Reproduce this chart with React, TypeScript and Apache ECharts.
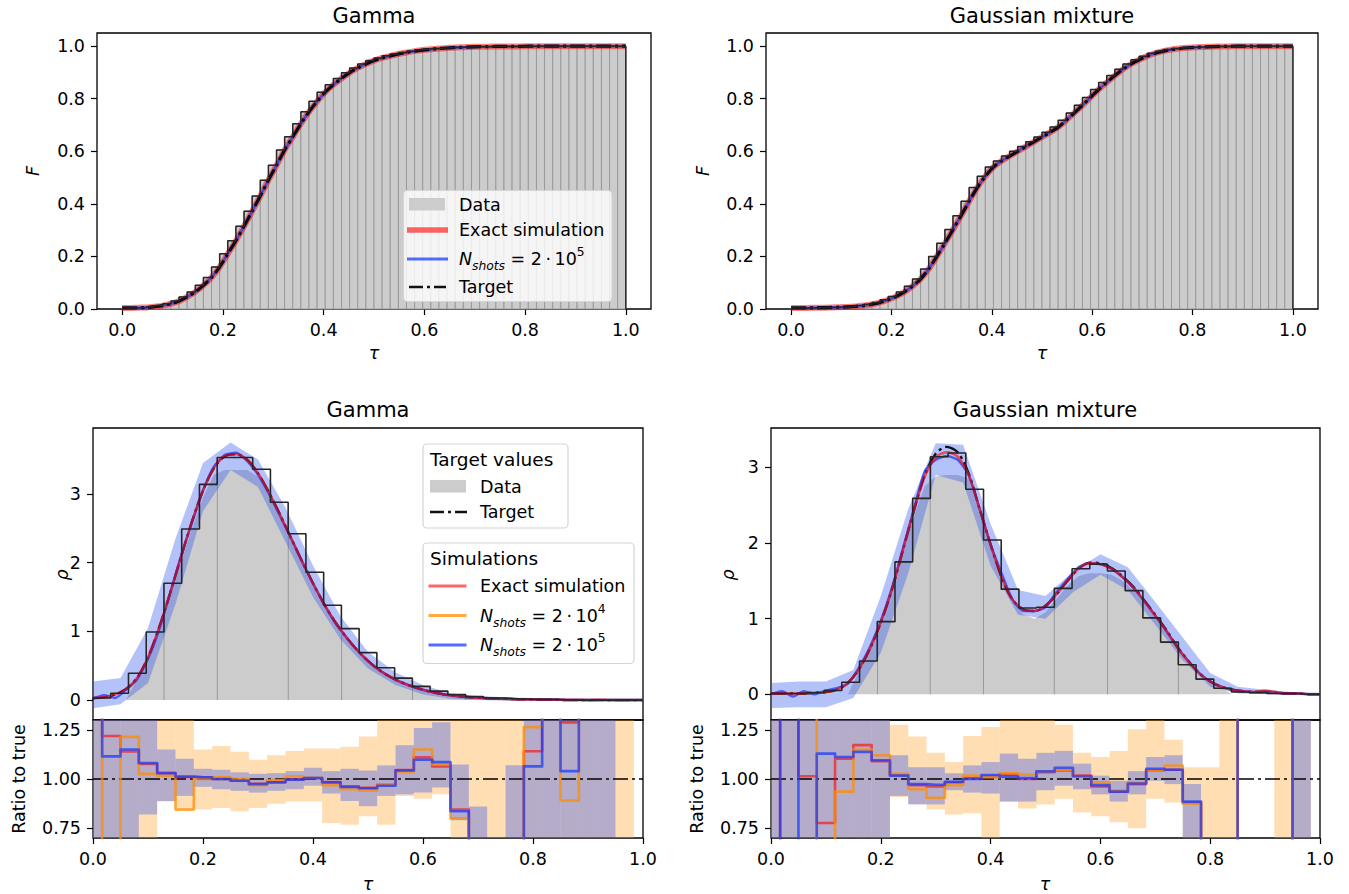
import React, { useEffect, useRef } from "react";
import * as echarts from "echarts";

const FONT = "DejaVu Sans";
const FS = 17.5;

// ---------------- tick values ----------------
const tauTicks = [0, 0.2, 0.4, 0.6, 0.8, 1.0];
const cdfYTicks = [0, 0.2, 0.4, 0.6, 0.8, 1.0];
const densityYTicks = [0, 1, 2, 3];
const ratioYTicks = [0.75, 1.0, 1.25];

// ---------------- CDF panels (63 edges, 62 bins) ----------------
const cdfBins = 62;
const gammaCdf = [
  0.004, 0.004, 0.005, 0.006, 0.009, 0.013, 0.02, 0.03, 0.046, 0.065,
  0.09, 0.12, 0.16, 0.21, 0.26, 0.315, 0.372, 0.43, 0.49, 0.547,
  0.605, 0.655, 0.705, 0.75, 0.79, 0.825, 0.853, 0.877, 0.899, 0.917,
  0.932, 0.945, 0.955, 0.963, 0.97, 0.976, 0.981, 0.985, 0.988, 0.991,
  0.993, 0.995, 0.996, 0.997, 0.998, 0.998, 0.999, 0.999, 0.999, 0.999,
  1, 1, 1, 1, 1, 1, 1, 1, 1, 1, 1, 1, 1,
];
const mixtureCdf = [
  0.004, 0.004, 0.004, 0.005, 0.005, 0.006, 0.007, 0.008, 0.01, 0.013,
  0.018, 0.025, 0.035, 0.048, 0.065, 0.087, 0.114, 0.152, 0.2, 0.25,
  0.302, 0.355, 0.41, 0.462, 0.505, 0.54, 0.563, 0.582, 0.6, 0.618,
  0.636, 0.654, 0.672, 0.692, 0.718, 0.746, 0.775, 0.805, 0.835, 0.862,
  0.888, 0.912, 0.932, 0.948, 0.962, 0.973, 0.981, 0.987, 0.991, 0.994,
  0.996, 0.997, 0.998, 0.999, 0.999, 1, 1, 1, 1, 1, 1, 1, 1,
];

// ---------------- density curves (tau = 0, 0.02, ..., 1) ----------------
const gammaTarget = [
  0.03, 0.04, 0.08, 0.16, 0.32, 0.62, 1.05, 1.55, 2.08, 2.6,
  3.05, 3.38, 3.55, 3.58, 3.5, 3.3, 3.02, 2.7, 2.36, 2.02,
  1.7, 1.4, 1.14, 0.92, 0.73, 0.57, 0.44, 0.34, 0.26, 0.2,
  0.15, 0.11, 0.08, 0.06, 0.045, 0.035, 0.025, 0.02, 0.015, 0.01,
  0.01, 0.005, 0.005, 0, 0, 0, 0, 0, 0, 0, 0,
];
const gammaExact = [
  0.03, 0.04, 0.08, 0.16, 0.32, 0.62, 1.05, 1.55, 2.08, 2.6,
  3.05, 3.38, 3.55, 3.58, 3.5, 3.3, 3.02, 2.7, 2.36, 2.02,
  1.7, 1.4, 1.14, 0.92, 0.73, 0.57, 0.44, 0.34, 0.26, 0.2,
  0.15, 0.11, 0.08, 0.06, 0.045, 0.035, 0.025, 0.02, 0.015, 0.01,
  0.01, 0.005, 0.005, 0.005, 0.005, 0, 0.005, 0, 0, 0, 0,
];
const gammaShots2e5 = [
  0.02, 0.07, 0.03, 0.15, 0.3, 0.6, 1.02, 1.55, 2.1, 2.58,
  3.05, 3.4, 3.57, 3.6, 3.48, 3.28, 3.0, 2.68, 2.36, 2.02,
  1.7, 1.4, 1.13, 0.92, 0.73, 0.57, 0.44, 0.34, 0.26, 0.2,
  0.15, 0.11, 0.08, 0.06, 0.045, 0.035, 0.025, 0.02, 0.015, 0.01,
  0.01, 0.005, 0.005, 0, 0, 0, 0, 0, 0, 0, 0,
];
const gammaData = [
  0, 0, 0, 0, 0.3, 0.6, 1.0, 1.5, 2.0, 2.5,
  2.95, 3.28, 3.35, 3.35, 3.35, 3.25, 2.98, 2.66, 2.33, 2.0,
  1.68, 1.38, 1.12, 0.9, 0.71, 0.56, 0.43, 0.33, 0.25, 0.19,
  0.14, 0.1, 0.07, 0.05, 0.04, 0.03, 0.02, 0, 0, 0,
  0, 0, 0, 0, 0, 0, 0, 0, 0, 0, 0,
];
const mixtureTarget = [
  0.01, 0.01, 0.01, 0.01, 0.02, 0.03, 0.06, 0.15, 0.33, 0.6,
  0.95, 1.38, 1.9, 2.42, 2.9, 3.18, 3.27, 3.2, 2.92, 2.45,
  1.98, 1.55, 1.25, 1.12, 1.1, 1.17, 1.32, 1.5, 1.66, 1.74,
  1.73, 1.67, 1.56, 1.42, 1.24, 1.05, 0.85, 0.63, 0.44, 0.28,
  0.17, 0.1, 0.06, 0.04, 0.03, 0.03, 0.02, 0.01, 0.01, 0, 0,
];
const mixtureExact = [
  0.01, 0.01, 0.01, 0.01, 0.02, 0.03, 0.06, 0.15, 0.33, 0.6,
  0.95, 1.38, 1.9, 2.42, 2.88, 3.13, 3.2, 3.14, 2.9, 2.45,
  1.98, 1.55, 1.25, 1.12, 1.1, 1.17, 1.32, 1.5, 1.66, 1.73,
  1.72, 1.66, 1.55, 1.41, 1.23, 1.04, 0.84, 0.62, 0.44, 0.28,
  0.17, 0.1, 0.06, 0.04, 0.03, 0.05, 0.03, 0.01, 0.01, 0, 0,
];
const mixtureShots2e5 = [
  0.0, 0.04, -0.03, 0.04, 0.0, 0.05, 0.08, 0.14, 0.35, 0.62,
  0.97, 1.4, 1.92, 2.44, 2.95, 3.1, 3.15, 3.1, 2.9, 2.45,
  1.98, 1.6, 1.25, 1.1, 1.1, 1.15, 1.35, 1.52, 1.68, 1.73,
  1.72, 1.66, 1.55, 1.41, 1.23, 1.04, 0.84, 0.62, 0.44, 0.28,
  0.17, 0.1, 0.06, 0.04, 0.03, 0.04, 0.02, 0.01, 0.01, 0, 0,
];
const mixtureData = [
  0, 0, 0, 0, 0, 0, 0, 0, 0.3, 0.58,
  0.92, 1.35, 1.85, 2.35, 2.75, 2.88, 2.9, 2.9, 2.85, 2.4,
  1.95, 1.52, 1.22, 1.05, 1.0, 1.08, 1.26, 1.43, 1.56, 1.6,
  1.6, 1.58, 1.5, 1.38, 1.2, 1.02, 0.82, 0.6, 0.42, 0.26,
  0.15, 0.08, 0, 0, 0, 0, 0, 0, 0, 0, 0,
];

// gray data-histogram edges visible inside the gray area
const gammaDataEdges = [0.129, 0.226, 0.355, 0.452, 0.581, 0.677];
const gammaDataEdgeTops = [1.45, 3.35, 2.38, 0.95, 0.2, 0.05];
const mixtureDataEdges = [0.194, 0.29, 0.387, 0.516, 0.613, 0.742];
const mixtureDataEdgeTops = [0.9, 2.88, 2.2, 1.25, 1.59, 0.62];

// target histograms (31 bins on [0, 1])
const histBins = 31;
const gammaHist = [
  0.03, 0.1, 0.39, 0.99, 1.7, 2.49, 3.14, 3.53, 3.53, 3.36,
  2.88, 2.42, 1.86, 1.38, 1.04, 0.69, 0.47, 0.32, 0.2, 0.13,
  0.08, 0.05, 0.03, 0.02, 0.01, 0.01, 0, 0, 0, 0, 0,
];
const mixtureHist = [
  0.01, 0.01, 0.02, 0.05, 0.16, 0.44, 0.96, 1.75, 2.59, 3.14,
  3.19, 2.71, 2.04, 1.39, 1.14, 1.15, 1.4, 1.66, 1.72, 1.63,
  1.37, 1.01, 0.69, 0.39, 0.2, 0.08, 0.03, 0.02, 0.01, 0.01, 0,
];

// uncertainty band of N_shots = 2e5 (tau = 0, 0.05, ..., 1)
const gammaBandLow = [-0.12, -0.06, 0.25, 1.4, 2.75, 3.35, 3.1, 2.3, 1.5, 0.88, 0.46, 0.22, 0.08, 0.02, 0.0, -0.01, -0.01, -0.01, -0.01, -0.01, -0.01];
const gammaBandHigh = [0.27, 0.32, 1.05, 2.35, 3.45, 3.75, 3.5, 2.8, 1.96, 1.22, 0.7, 0.4, 0.22, 0.1, 0.06, 0.04, 0.03, 0.03, 0.03, 0.03, 0.03];
const mixtureBandLow = [-0.18, -0.17, -0.17, -0.05, 0.55, 1.6, 2.9, 2.8, 1.7, 1.05, 1.0, 1.35, 1.58, 1.38, 0.92, 0.45, 0.1, 0.01, 0.0, -0.01, -0.01];
const mixtureBandHigh = [0.15, 0.17, 0.17, 0.32, 1.3, 2.45, 3.32, 3.3, 2.25, 1.38, 1.3, 1.62, 1.85, 1.68, 1.22, 0.75, 0.28, 0.1, 0.06, 0.03, 0.02];

// ratio to true (31 bins centred on k/30)
const gammaRatioExact = [1.5, 1.219, 1.14, 1.076, 1.03, 1.01, 1.009, 1.0, 0.993, 0.976, 0.985, 0.998, 1.005, 0.985, 0.962, 0.955, 0.97, 1.045, 1.11, 1.064, 0.845, 0.5, 0.5, 0.5, 1.141, 1.5, 1.288, 1.5, 1.5, 1.5, 1.5];
const gammaRatio2e4 = [1.5, 0.5, 1.214, 1.026, 1.017, 0.845, 1.0, 1.009, 1.0, 0.969, 0.995, 1.014, 1.005, 0.969, 0.948, 0.94, 0.971, 1.034, 1.15, 1.074, 0.8, 0.5, 0.5, 0.5, 1.264, 1.5, 0.891, 1.5, 1.5, 1.5, 1.5];
const gammaRatio2e5 = [1.5, 1.115, 1.15, 1.081, 1.03, 1.012, 1.009, 1.0, 0.991, 0.974, 0.983, 0.997, 1.005, 0.983, 0.96, 0.953, 0.966, 1.043, 1.098, 1.086, 0.836, 0.5, 0.5, 0.5, 1.064, 1.5, 1.04, 1.5, 1.5, 1.5, 1.5];
const gammaBand2e5Low = [0.6, 0.6, 0.6, 0.82, 0.888, 0.914, 0.96, 0.948, 0.94, 0.931, 0.94, 0.948, 0.966, 0.926, 0.888, 0.862, 0.914, 0.922, 0.931, 0.957, 0.79, 0.6, null, 0.6, 0.6, 0.6, 0.6, 0.6, 0.6, null, null];
const gammaBand2e5High = [1.4, 1.4, 1.4, 1.4, 1.15, 1.103, 1.052, 1.047, 1.034, 1.026, 1.03, 1.04, 1.057, 1.04, 1.052, 1.043, 1.069, 1.172, 1.259, 1.288, 1.074, 0.86, null, 1.07, 1.4, 1.4, 1.4, 1.4, 1.4, null, null];
const gammaBand2e4Low = [0.6, 0.6, 0.6, 0.6, 0.885, 0.836, 0.845, 0.853, 0.836, 0.853, 0.874, 0.885, 0.885, 0.776, 0.767, 0.81, 0.767, 0.914, 0.9, 0.922, 0.6, 0.6, 0.6, 0.6, 0.6, 0.6, 0.6, 0.6, 0.6, 0.6, null];
const gammaBand2e4High = [1.4, 1.4, 1.4, 1.4, 1.4, 1.4, 1.15, 1.168, 1.138, 1.098, 1.121, 1.143, 1.155, 1.155, 1.164, 1.216, 1.4, 1.4, 1.4, 1.4, 1.4, 1.4, 1.4, 1.4, 1.4, 1.4, 1.4, 1.4, 1.4, 1.4, null];

const mixtureRatioExact = [0.5, 1.5, 1.014, 0.776, 1.103, 1.172, 1.09, 1.02, 0.969, 0.962, 0.983, 1.005, 1.012, 1.022, 1.0, 1.034, 1.043, 1.017, 0.962, 0.936, 0.974, 1.043, 1.047, 0.88, 0.5, 0.5, 1.5, 1.5, 1.5, 0.5, 0.5];
const mixtureRatio2e4 = [1.5, 1.5, 1.5, 0.5, 0.936, 1.15, 1.121, 1.026, 0.948, 0.905, 0.969, 1.017, 1.009, 1.029, 1.022, 1.039, 1.046, 1.014, 0.983, 0.943, 0.983, 1.043, 1.069, 0.874, 0.5, 0.5, 1.5, 1.5, 1.5, 0.5, 0.5];
const mixtureRatio2e5 = [0.5, 1.5, 0.5, 1.129, 1.112, 1.138, 1.095, 1.017, 0.974, 0.971, 0.986, 1.0, 1.02, 1.012, 1.005, 1.039, 1.057, 1.014, 0.969, 0.936, 0.977, 1.052, 1.047, 0.885, 0.5, 0.5, 1.5, 1.5, 1.5, 0.5, 0.5];
const mixtureBand2e5Low = [0.6, 0.6, 0.6, 0.6, 0.6, 0.6, 0.6, 0.914, 0.871, 0.871, 0.943, 0.931, 0.926, 0.885, 0.885, 0.943, 0.966, 0.948, 0.922, 0.885, 0.922, 0.991, 0.974, 0.6, null, null, null, null, null, 0.6, null];
const mixtureBand2e5High = [1.4, 1.4, 1.4, 1.4, 1.4, 1.4, 1.4, 1.121, 1.06, 1.06, 1.029, 1.069, 1.086, 1.129, 1.103, 1.133, 1.143, 1.078, 1.017, 0.991, 1.04, 1.112, 1.121, 0.974, null, null, null, null, null, 1.4, null];
const mixtureBand2e4Low = [0.6, 0.6, 0.6, 0.6, 0.6, 0.6, 0.6, 0.909, 0.871, 0.845, 0.819, 0.826, 0.6, 0.885, 0.85, 0.87, 0.9, 0.83, 0.81, 0.78, 0.75, 0.9, 0.88, 0.6, 0.6, 0.6, null, null, 0.6, 0.6, null];
const mixtureBand2e4High = [1.4, 1.4, 1.4, 1.4, 1.4, 1.4, 1.4, 1.276, 1.216, 1.133, 1.086, 1.219, 1.264, 1.4, 1.4, 1.4, 1.276, 1.133, 1.112, 1.143, 1.253, 1.4, 1.2, 1.06, 1.06, 1.4, null, null, 1.4, 1.4, null];

// ---------------- styles ----------------
const RED = "rgba(255,0,0,0.6)";
const RED_WIDE = "rgba(255,0,0,0.5)";
const BLUE = "rgba(25,60,255,0.75)";
const ORANGE = "rgba(255,140,0,0.75)";
const BAND_BLUE = "rgba(40,80,240,0.35)";
const BAND_ORANGE = "rgba(255,160,40,0.35)";
const GRAY = "#cccccc";
const DASHDOT = [15, 4, 3, 4];

const densityX = gammaTarget.map((_, i) => +(i * 0.02).toFixed(2));
const bandX = gammaBandLow.map((_, i) => +(i * 0.05).toFixed(2));
const ratioCenters = gammaRatioExact.map((_, i) => i / 30);

function lineSeries(xi: number, xs: number[], ys: number[], color: string, width: number, opts: any = {}) {
  return {
    type: "line",
    xAxisIndex: xi,
    yAxisIndex: xi,
    data: xs.map((x, i) => [x, ys[i]]),
    symbol: "none",
    silent: true,
    clip: true,
    smooth: opts.smooth ?? false,
    step: opts.step ?? false,
    lineStyle: { color, width, type: opts.dash ?? "solid", cap: "butt", join: "round" },
    areaStyle: opts.area ? { color: opts.area, opacity: 1, origin: 0 } : undefined,
    z: 2,
  };
}

function cdfBarsSeries(xi: number, cdf: number[]) {
  const w = 1 / cdfBins;
  return {
    type: "custom",
    xAxisIndex: xi,
    yAxisIndex: xi,
    silent: true,
    data: cdf.slice(1).map((v, k) => [k / cdfBins, v]),
    renderItem: (params: any, api: any) => {
      const x0 = api.value(0);
      const h = api.value(1);
      const p0 = api.coord([x0, h]);
      const p1 = api.coord([x0 + w, 0]);
      return {
        type: "rect",
        shape: { x: p0[0], y: p0[1], width: p1[0] - p0[0], height: p1[1] - p0[1] },
        style: { fill: GRAY, stroke: "#9a9a9a", lineWidth: 1 },
      };
    },
  };
}

function cdfStepSeries(xi: number, cdf: number[]) {
  const pts = cdf.map((v, k) => [k / cdfBins, v]);
  pts.push([1, 0]);
  return {
    type: "line",
    xAxisIndex: xi,
    yAxisIndex: xi,
    data: pts,
    step: "start",
    symbol: "none",
    silent: true,
    lineStyle: { color: "#262626", width: 1.5 },
  };
}

function histStepSeries(xi: number, hist: number[]) {
  const pts: number[][] = [[0, 0]];
  hist.forEach((v, k) => pts.push([(k + 1) / histBins, v]));
  pts.push([1, 0]);
  return {
    type: "line",
    xAxisIndex: xi,
    yAxisIndex: xi,
    data: pts,
    step: "start",
    symbol: "none",
    silent: true,
    lineStyle: { color: "#262626", width: 1.6 },
  };
}

function bandPolygon(xi: number, xs: number[], lo: number[], hi: number[], color: string) {
  return {
    type: "custom",
    xAxisIndex: xi,
    yAxisIndex: xi,
    silent: true,
    data: [[0.5, 1]],
    renderItem: (params: any, api: any) => {
      const pts: number[][] = [];
      xs.forEach((x, i) => pts.push(api.coord([x, hi[i]])));
      for (let i = xs.length - 1; i >= 0; i--) pts.push(api.coord([xs[i], lo[i]]));
      return { type: "polygon", shape: { points: pts }, style: { fill: color } };
    },
  };
}

function edgeLines(xi: number, xs: number[], tops: number[]) {
  return {
    type: "custom",
    xAxisIndex: xi,
    yAxisIndex: xi,
    silent: true,
    data: xs.map((x, i) => [x, tops[i]]),
    renderItem: (params: any, api: any) => {
      const p0 = api.coord([api.value(0), 0]);
      const p1 = api.coord([api.value(0), api.value(1)]);
      return {
        type: "line",
        shape: { x1: p0[0], y1: p0[1], x2: p1[0], y2: p1[1] },
        style: { stroke: "#9a9a9a", lineWidth: 1 },
      };
    },
  };
}

function ratioBand(xi: number, lo: (number | null)[], hi: (number | null)[], color: string) {
  const w = 1 / 30;
  const data: number[][] = [];
  ratioCenters.forEach((c, i) => {
    if (lo[i] != null && hi[i] != null) data.push([c, lo[i] as number, hi[i] as number]);
  });
  return {
    type: "custom",
    xAxisIndex: xi,
    yAxisIndex: xi,
    silent: true,
    data,
    renderItem: (params: any, api: any) => {
      const c = api.value(0);
      const p0 = api.coord([c - w / 2, api.value(2)]);
      const p1 = api.coord([c + w / 2, api.value(1)]);
      const cs = params.coordSys;
      const shape = echarts.graphic.clipRectByRect(
        { x: p0[0], y: p0[1], width: p1[0] - p0[0], height: p1[1] - p0[1] },
        { x: cs.x, y: cs.y, width: cs.width, height: cs.height }
      );
      if (!shape) return null;
      return { type: "rect", shape, style: { fill: color } };
    },
  };
}

function ratioPanelSeries(xi: number, exact: number[], r2e4: number[], r2e5: number[],
  b4lo: any[], b4hi: any[], b5lo: any[], b5hi: any[]) {
  return [
    ratioBand(xi, b4lo, b4hi, BAND_ORANGE),
    ratioBand(xi, b5lo, b5hi, BAND_BLUE),
    lineSeries(xi, [0, 1], [1, 1], "#000", 1.5, { dash: DASHDOT }),
    lineSeries(xi, ratioCenters, exact, RED, 2.6, { step: "middle" }),
    lineSeries(xi, ratioCenters, r2e4, ORANGE, 2.6, { step: "middle" }),
    lineSeries(xi, ratioCenters, r2e5, BLUE, 2.6, { step: "middle" }),
  ];
}

const fmt1 = (v: number) => v.toFixed(1);
const fmt2 = (v: number) => v.toFixed(2);
const fmt0 = (v: number) => v.toFixed(0);

function xAxis(gridIndex: number, min: number, max: number, labels: boolean) {
  return {
    type: "value",
    gridIndex,
    min,
    max,
    axisLine: { show: false, onZero: false },
    splitLine: { show: false },
    axisTick: labels
      ? { show: true, length: 6, customValues: tauTicks, lineStyle: { color: "#000", width: 1.2 } }
      : { show: false },
    axisLabel: labels
      ? { show: true, customValues: tauTicks, formatter: fmt1, color: "#000", fontSize: FS, fontFamily: FONT, margin: 12 }
      : { show: false },
  };
}

function yAxis(gridIndex: number, min: number, max: number, ticks: number[], formatter: any) {
  return {
    type: "value",
    gridIndex,
    min,
    max,
    axisLine: { show: false, onZero: false },
    splitLine: { show: false },
    axisTick: { show: true, length: 6, customValues: ticks, lineStyle: { color: "#000", width: 1.2 } },
    axisLabel: { show: true, customValues: ticks, formatter, color: "#000", fontSize: FS, fontFamily: FONT, margin: 12 },
  };
}

// ---------------- legend & labels (graphic) ----------------
const nshots = (exp: string) => ({
  text: `{n|N}{s|shots}{t| = 2\u2009·\u200910}{p|${exp}}`,
  rich: {
    n: { fontSize: FS, fontStyle: "italic", fontFamily: FONT, lineHeight: 26 },
    s: { fontSize: 12.3, fontStyle: "italic", fontFamily: FONT, verticalAlign: "bottom", lineHeight: 13 },
    t: { fontSize: FS, fontFamily: FONT, lineHeight: 26 },
    p: { fontSize: 12.3, fontFamily: FONT, verticalAlign: "top", lineHeight: 13 },
  },
});

function txt(x: number, y: number, text: string, extra: any = {}) {
  return {
    type: "text",
    x,
    y,
    rotation: extra.rotation ?? 0,
    z: 100,
    style: {
      text,
      fill: "#000",
      fontSize: extra.fontSize ?? FS,
      fontFamily: FONT,
      fontStyle: extra.italic ? "italic" : "normal",
      align: extra.align ?? "left",
      verticalAlign: "middle",
      ...(extra.rich ? { rich: extra.rich } : {}),
    },
  };
}

function hline(x: number, y: number, len: number, stroke: string, lineWidth: number, dash?: number[]) {
  return {
    type: "line",
    z: 100,
    shape: { x1: x, y1: y, x2: x + len, y2: y },
    style: { stroke, lineWidth, lineDash: dash, lineCap: "butt" },
  };
}

function box(x: number, y: number, w: number, h: number) {
  return {
    type: "rect",
    z: 99,
    shape: { x, y, width: w, height: h, r: 4 },
    style: { fill: "rgba(255,255,255,0.8)", stroke: "#d4d4d4", lineWidth: 1.2 },
  };
}

function buildGraphic() {
  const g: any[] = [];
  // titles
  g.push(txt(374, 16, "Gamma", { align: "center", fontSize: 21 }));
  g.push(txt(1042, 16, "Gaussian mixture", { align: "center", fontSize: 21 }));
  g.push(txt(368, 410, "Gamma", { align: "center", fontSize: 21 }));
  g.push(txt(1045, 410, "Gaussian mixture", { align: "center", fontSize: 21 }));
  // axis names
  g.push(txt(374, 353, "τ", { align: "center", italic: true }));
  g.push(txt(1042, 353, "τ", { align: "center", italic: true }));
  g.push(txt(368, 884, "τ", { align: "center", italic: true }));
  g.push(txt(1045, 884, "τ", { align: "center", italic: true }));
  g.push(txt(33, 171, "F", { align: "center", italic: true, rotation: Math.PI / 2 }));
  g.push(txt(703, 171, "F", { align: "center", italic: true, rotation: Math.PI / 2 }));
  g.push(txt(62, 575, "ρ", { align: "center", italic: true, rotation: Math.PI / 2 }));
  g.push(txt(728, 575, "ρ", { align: "center", italic: true, rotation: Math.PI / 2 }));
  g.push(txt(19, 779, "Ratio to true", { align: "center", rotation: Math.PI / 2 }));
  g.push(txt(697, 779, "Ratio to true", { align: "center", rotation: Math.PI / 2 }));

  // top-left legend
  g.push(box(403.5, 190.5, 208.5, 111));
  g.push({ type: "rect", z: 100, shape: { x: 409, y: 198, width: 36, height: 12.5 }, style: { fill: GRAY } });
  g.push(txt(459, 204.5, "Data"));
  g.push(hline(407, 230, 41, RED, 5.5));
  g.push(txt(459, 230, "Exact simulation"));
  g.push(hline(407, 259, 41, BLUE, 3));
  g.push({ ...txt(459, 259, ""), style: { ...txt(459, 259, "").style, ...nshots("5") } });
  g.push(hline(409, 287, 37, "#111", 2.6, [14, 4, 3, 4]));
  g.push(txt(459, 287, "Target"));

  // bottom-left legend: target values
  g.push(box(423, 444, 145, 84));
  g.push(txt(430, 459.5, "Target values", { fontSize: 18.5 }));
  g.push({ type: "rect", z: 100, shape: { x: 430, y: 480, width: 36, height: 12.5 }, style: { fill: GRAY } });
  g.push(txt(480, 486.5, "Data"));
  g.push(hline(430, 512, 37, "#111", 2.6, [14, 4, 3, 4]));
  g.push(txt(480, 512, "Target"));

  // bottom-left legend: simulations
  g.push(box(423, 543, 211, 120.5));
  g.push(txt(430, 558.5, "Simulations", { fontSize: 18.5 }));
  g.push(hline(428.5, 586, 38, RED, 3));
  g.push(txt(480, 586, "Exact simulation"));
  g.push(hline(428.5, 615.5, 38, ORANGE, 3));
  g.push({ ...txt(480, 615.5, ""), style: { ...txt(480, 615.5, "").style, ...nshots("4") } });
  g.push(hline(428.5, 645, 38, BLUE, 3));
  g.push({ ...txt(480, 645, ""), style: { ...txt(480, 645, "").style, ...nshots("5") } });
  return g;
}

function buildOption() {
  const grids = [
    { left: 97, top: 33, width: 554, height: 276 },
    { left: 766, top: 33, width: 552, height: 276 },
    { left: 93, top: 428, width: 550, height: 292 },
    { left: 93, top: 720, width: 550, height: 118 },
    { left: 771, top: 428, width: 549, height: 292 },
    { left: 771, top: 720, width: 549, height: 118 },
  ].map((g) => ({ ...g, show: true, borderColor: "#000", borderWidth: 1.3, backgroundColor: "transparent", containLabel: false }));

  const xAxes = [
    xAxis(0, -0.05, 1.05, true),
    xAxis(1, -0.05, 1.05, true),
    xAxis(2, 0, 1, false),
    xAxis(3, 0, 1, true),
    xAxis(4, 0, 1, false),
    xAxis(5, 0, 1, true),
  ];
  const yAxes = [
    yAxis(0, 0, 1.05, cdfYTicks, fmt1),
    yAxis(1, 0, 1.05, cdfYTicks, fmt1),
    yAxis(2, -0.29, 3.96, densityYTicks, fmt0),
    yAxis(3, 0.7, 1.3, ratioYTicks, fmt2),
    yAxis(4, -0.34, 3.52, densityYTicks, fmt0),
    yAxis(5, 0.7, 1.3, ratioYTicks, fmt2),
  ];

  const cdfX = gammaCdf.map((_, k) => k / cdfBins);

  const series: any[] = [
    // top-left CDF
    cdfBarsSeries(0, gammaCdf),
    cdfStepSeries(0, gammaCdf),
    lineSeries(0, cdfX, gammaCdf, RED_WIDE, 6, { smooth: 0.3 }),
    lineSeries(0, cdfX, gammaCdf, BLUE, 2.6, { smooth: 0.3 }),
    lineSeries(0, cdfX, gammaCdf, "#0a0a1a", 3.2, { smooth: 0.3, dash: DASHDOT }),
    // top-right CDF
    cdfBarsSeries(1, mixtureCdf),
    cdfStepSeries(1, mixtureCdf),
    lineSeries(1, cdfX, mixtureCdf, RED_WIDE, 6, { smooth: 0.3 }),
    lineSeries(1, cdfX, mixtureCdf, BLUE, 2.6, { smooth: 0.3 }),
    lineSeries(1, cdfX, mixtureCdf, "#0a0a1a", 3.2, { smooth: 0.3, dash: DASHDOT }),

    // bottom-left density
    lineSeries(2, densityX, gammaData, "rgba(0,0,0,0)", 0, { area: GRAY }),
    edgeLines(2, gammaDataEdges, gammaDataEdgeTops),
    bandPolygon(2, bandX, gammaBandLow, gammaBandHigh, BAND_BLUE),
    histStepSeries(2, gammaHist),
    lineSeries(2, densityX, gammaTarget, "#111", 2.4, { smooth: 0.3, dash: DASHDOT }),
    lineSeries(2, densityX, gammaShots2e5, BLUE, 2.4, { smooth: 0.2 }),
    lineSeries(2, densityX, gammaExact, RED, 2.6, { smooth: 0.3 }),
    // bottom-left ratio
    ...ratioPanelSeries(3, gammaRatioExact, gammaRatio2e4, gammaRatio2e5,
      gammaBand2e4Low, gammaBand2e4High, gammaBand2e5Low, gammaBand2e5High),

    // bottom-right density
    lineSeries(4, densityX, mixtureData, "rgba(0,0,0,0)", 0, { area: GRAY }),
    edgeLines(4, mixtureDataEdges, mixtureDataEdgeTops),
    bandPolygon(4, bandX, mixtureBandLow, mixtureBandHigh, BAND_BLUE),
    histStepSeries(4, mixtureHist),
    lineSeries(4, densityX, mixtureTarget, "#111", 2.4, { smooth: 0.3, dash: DASHDOT }),
    lineSeries(4, densityX, mixtureShots2e5, BLUE, 2.4, { smooth: 0.2 }),
    lineSeries(4, densityX, mixtureExact, RED, 2.6, { smooth: 0.3 }),
    // bottom-right ratio
    ...ratioPanelSeries(5, mixtureRatioExact, mixtureRatio2e4, mixtureRatio2e5,
      mixtureBand2e4Low, mixtureBand2e4High, mixtureBand2e5Low, mixtureBand2e5High),
  ];

  return {
    animation: false,
    backgroundColor: "#ffffff",
    textStyle: { fontFamily: FONT },
    grid: grids,
    xAxis: xAxes,
    yAxis: yAxes,
    series,
    graphic: buildGraphic(),
  };
}

export default function App() {
  const ref = useRef<HTMLDivElement>(null);
  useEffect(() => {
    if (!ref.current) return;
    const chart = echarts.init(ref.current, null, { renderer: "svg" });
    chart.setOption(buildOption() as any);
    return () => chart.dispose();
  }, []);
  return (
    <div
      ref={ref}
      style={{ position: "absolute", left: 0, top: 0, width: 1349, height: 894, background: "#fff" }}
    />
  );
}
